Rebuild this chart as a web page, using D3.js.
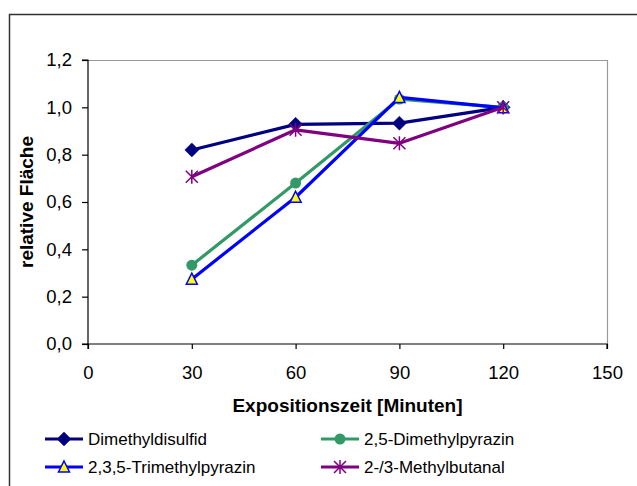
<!DOCTYPE html>
<html>
<head>
<meta charset="utf-8">
<script src="https://cdn.jsdelivr.net/npm/d3@7"></script>
<style>
  html, body { margin: 0; padding: 0; background: #fff; }
  svg { display: block; font-family: "Liberation Sans", Arial, sans-serif; }
</style>
</head>
<body>
<svg id="chart" width="637" height="486"></svg>
<script>
// Exposure time in minutes
const times = [30, 60, 90, 120];

// Relative peak area per compound
const dimethyldisulfid   = [0.82, 0.928, 0.933, 1.0];
const dimethylpyrazin    = [0.333, 0.68, 1.035, 1.0];
const trimethylpyrazin   = [0.274, 0.62, 1.042, 0.998];
const methylbutanal      = [0.707, 0.905, 0.848, 1.0];

const seriesNames = ["Dimethyldisulfid", "2,5-Dimethylpyrazin", "2,3,5-Trimethylpyrazin", "2-/3-Methylbutanal"];

const xTicks = [0, 30, 60, 90, 120, 150];
const yTicks = [0, 0.2, 0.4, 0.6, 0.8, 1.0, 1.2];

const xTitle = "Expositionszeit [Minuten]";
const yTitle = "relative Fläche";

const series = [
  { name: seriesNames[0], values: dimethyldisulfid, color: "#000080", marker: "diamond" },
  { name: seriesNames[1], values: dimethylpyrazin,  color: "#339966", marker: "circle" },
  { name: seriesNames[2], values: trimethylpyrazin, color: "#0000ff", marker: "triangle" },
  { name: seriesNames[3], values: methylbutanal,    color: "#800080", marker: "star" }
];

const svg = d3.select("#chart");
const plot = { left: 88, top: 60, right: 607, bottom: 344 };

const x = d3.scaleLinear().domain([0, 150]).range([plot.left, plot.right]);
const y = d3.scaleLinear().domain([0, 1.2]).range([plot.bottom, plot.top]);

const fmt = v => d3.format(".1f")(v).replace(".", ",");

// Chart frame
svg.append("rect")
  .attr("x", 9.5).attr("y", 14.5)
  .attr("width", 640).attr("height", 500)
  .attr("fill", "none").attr("stroke", "#333").attr("stroke-width", 1.5);

// Plot area outline (top and right edges in grey)
svg.append("path")
  .attr("d", `M${plot.left},${plot.top + 0.5}H${plot.right + 0.5}V${plot.bottom}`)
  .attr("fill", "none").attr("stroke", "#999").attr("stroke-width", 1.2);

// Axes
const yAxis = d3.axisLeft(y).tickValues(yTicks).tickFormat(fmt).tickSize(6).tickPadding(10);
const xAxis = d3.axisBottom(x).tickValues(xTicks).tickFormat(d3.format("d")).tickSize(5).tickPadding(17);

const gy = svg.append("g").attr("transform", `translate(${plot.left},0)`).call(yAxis);
const gx = svg.append("g").attr("transform", `translate(0,${plot.bottom})`).call(xAxis);

[gx, gy].forEach(g => {
  g.selectAll("path.domain").attr("stroke", "#000").attr("stroke-width", 1.2);
  g.selectAll(".tick line").attr("stroke", "#000").attr("stroke-width", 1.2);
  g.selectAll(".tick text")
    .attr("font-family", "Liberation Sans, Arial, sans-serif")
    .attr("font-size", 18.5).attr("fill", "#000");
});
gy.select("path.domain").attr("d", `M-6,${plot.bottom}H0V${plot.top}H-6`);
gx.select("path.domain").attr("d", `M${plot.left},5V0H${plot.right}V5`);

// Axis titles
svg.append("text")
  .attr("x", (plot.left + plot.right) / 2).attr("y", 412)
  .attr("text-anchor", "middle")
  .attr("font-size", 19).attr("font-weight", "bold")
  .text(xTitle);

svg.append("text")
  .attr("transform", `translate(33,${(plot.top + plot.bottom) / 2}) rotate(-90)`)
  .attr("text-anchor", "middle")
  .attr("font-size", 19).attr("font-weight", "bold")
  .text(yTitle);

// Marker drawing
function drawMarker(g, type, color) {
  if (type === "diamond") {
    g.append("path").attr("d", "M0,-7L7,0L0,7L-7,0Z").attr("fill", color).attr("stroke", color).attr("stroke-width", 0.5);
  } else if (type === "circle") {
    g.append("circle").attr("r", 5.5).attr("fill", color);
  } else if (type === "triangle") {
    g.append("path").attr("d", "M0,-6L5.5,5L-5.5,5Z").attr("fill", "#ffff00").attr("stroke", "#0000ff").attr("stroke-width", 1.5);
  } else if (type === "star") {
    g.append("path").attr("d", "M-6,-6L6,6M-6,6L6,-6M0,-7V7").attr("stroke", color).attr("stroke-width", 1.5).attr("fill", "none");
  }
}

const line = d3.line().x(d => x(d[0])).y(d => y(d[1]));

series.forEach(s => {
  const pts = times.map((t, i) => [t, s.values[i]]);
  const g = svg.append("g");
  g.append("path")
    .datum(pts)
    .attr("d", line)
    .attr("fill", "none")
    .attr("stroke", s.color)
    .attr("stroke-width", 3.2)
    .attr("stroke-linejoin", "round");
  pts.forEach(p => {
    const m = g.append("g").attr("transform", `translate(${x(p[0])},${y(p[1])})`);
    drawMarker(m, s.marker, s.color);
  });
});

// Legend
const legendPos = [
  { lx: 45, ly: 439 },
  { lx: 321, ly: 439 },
  { lx: 45, ly: 467 },
  { lx: 321, ly: 467 }
];
series.forEach((s, i) => {
  const p = legendPos[i];
  const g = svg.append("g").attr("transform", `translate(${p.lx},${p.ly})`);
  g.append("line").attr("x1", 0).attr("x2", 38).attr("y1", 0).attr("y2", 0)
    .attr("stroke", s.color).attr("stroke-width", 3.2);
  drawMarker(g.append("g").attr("transform", "translate(19,0)"), s.marker, s.color);
  g.append("text").attr("x", 43).attr("y", 0).attr("dy", "0.35em")
    .attr("font-size", 17).attr("fill", "#000")
    .text(s.name);
});
</script>
</body>
</html>
